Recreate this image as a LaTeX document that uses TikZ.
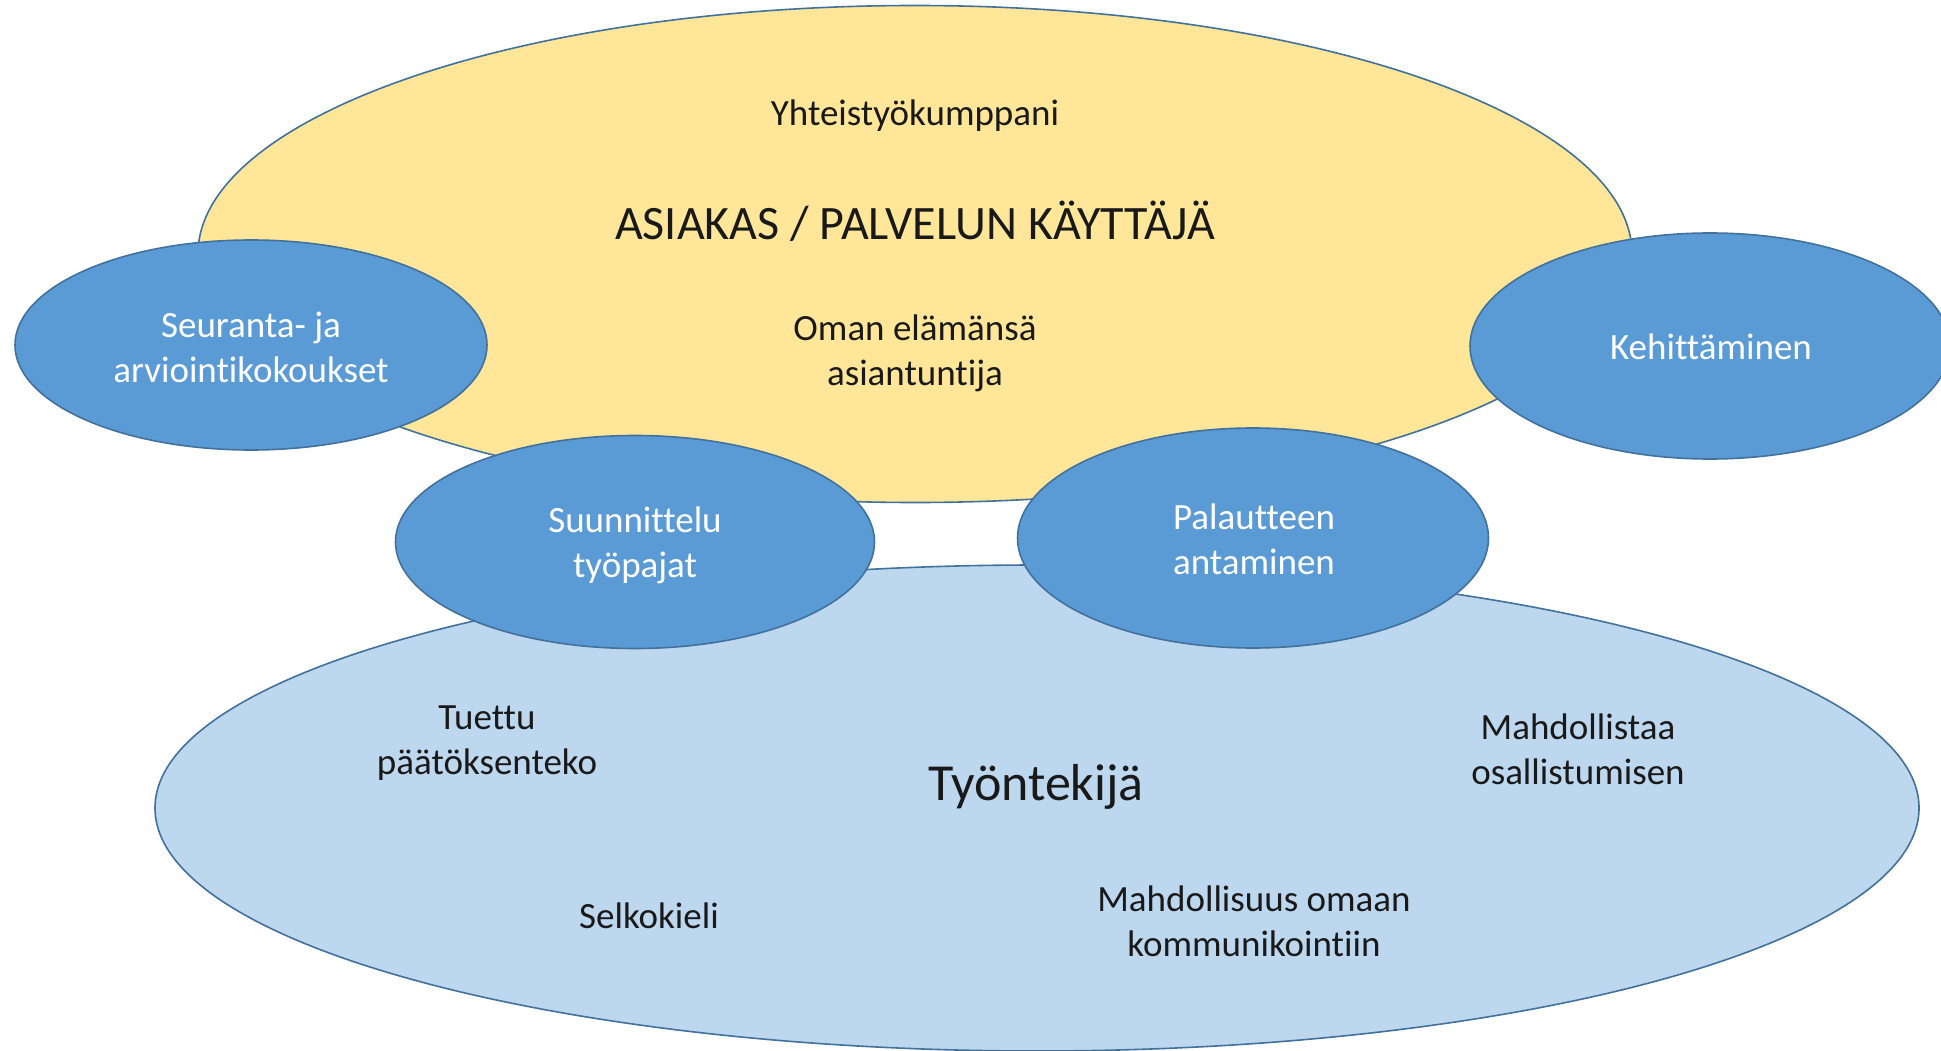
\documentclass[tikz,border=0pt]{standalone}
\usepackage{fontspec}
\setmainfont{Carlito}[Ligatures = NoCommon]
\usetikzlibrary{shapes.geometric}
\definecolor{clientfill}{HTML}{FFE699}
\definecolor{workerfill}{HTML}{BDD7EE}
\definecolor{blobfill}{HTML}{5B9BD5}
\definecolor{blobline}{HTML}{41719C}
\tikzset{
    bigoval/.style = {ellipse, draw = blobline, line width = 1.6pt, inner sep = 0pt},
    blob/.style = {ellipse, draw = blobline, line width = 1.6pt, fill = blobfill, inner sep = 0pt},
    whitetext/.style = {text = white, align = center, font = \fontsize{37}{45}\selectfont},
    darktext/.style = {text = black!90, align = center, font = \fontsize{37}{45}\selectfont},
    headtext/.style = {text = black!90, align = center, font = \fontsize{48}{56}\selectfont}
}
\begin{document}
\begin{tikzpicture}[x = 1pt, y = -1pt]
        \useasboundingbox (0,0) rectangle (1941,1051);
        \clip (0,0) rectangle (1941,1051);
        \begin{scope}
            \node[bigoval, fill = clientfill, minimum width = 1434pt, minimum height = 497pt] (client) at (915,254) {};
            \node[bigoval, fill = workerfill, minimum width = 1764pt, minimum height = 486pt] (worker) at (1037,808) {};
        \end{scope}
        \begin{scope}
            \node[blob, minimum width = 472pt, minimum height = 210pt] (followup) at (251,345) {};
            \node[blob, minimum width = 480pt, minimum height = 226pt] (develop) at (1710,346) {};
            \node[blob, minimum width = 479pt, minimum height = 213pt] (planning) at (635,542) {};
            \node[blob, minimum width = 471pt, minimum height = 220pt] (feedback) at (1253,538) {};
        \end{scope}
        \begin{scope}
            \node[darktext] (partner) at (915,116) {Yhteistyökumppani};
            \node[headtext] (clienthead) at (915,221) {ASIAKAS / PALVELUN KÄYTTÄJÄ};
            \node[darktext] (expert) at (915,353) {Oman elämänsä\\asiantuntija};
            \node[whitetext] (followuptext) at (251,347) {Seuranta- ja\\arviointikokoukset};
            \node[whitetext] (developtext) at (1711,347) {Kehittäminen};
            \node[whitetext] (planningtext) at (635,545) {Suunnittelu\\työpajat};
            \node[whitetext] (feedbacktext) at (1254,539) {Palautteen\\antaminen};
            \node[darktext] (supported) at (487,743) {Tuettu\\päätöksenteko};
            \node[headtext, font = \fontsize{52}{60}\selectfont] (workerhead) at (1036,787) {Työntekijä};
            \node[darktext] (enables) at (1578,749) {Mahdollistaa\\osallistumisen};
            \node[darktext] (plain) at (649,916) {Selkokieli};
            \node[darktext] (communicate) at (1254,921) {Mahdollisuus omaan\\kommunikointiin};
        \end{scope}
    \end{tikzpicture}
\end{document}
